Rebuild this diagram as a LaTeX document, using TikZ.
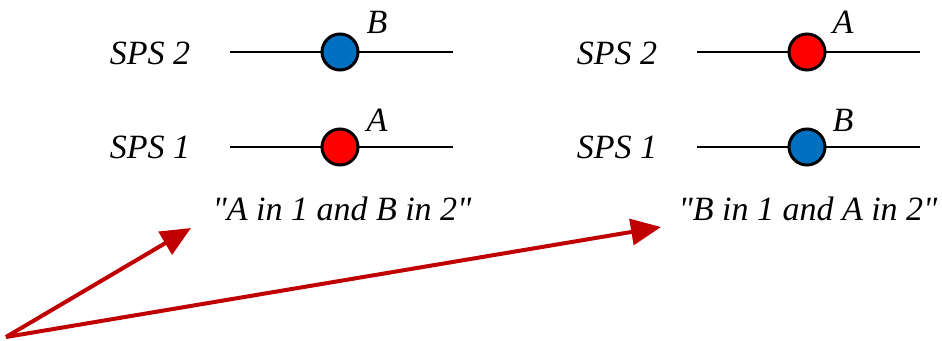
\documentclass[tikz,border=0pt]{standalone}
\usepackage{fontspec}
\setmainfont{Liberation Serif}
\newfontfamily\labelfont{Liberation Serif Italic}
\usepackage{tikz}
\usetikzlibrary{arrows.meta}

\definecolor{ballred}{HTML}{FF0000}
\definecolor{ballblue}{HTML}{0070C0}
\definecolor{arrowred}{HTML}{C00000}

\begin{document}
\begin{tikzpicture}[x=1pt, y=-1pt,
    lbl/.style={font=\fontsize{34}{38}\selectfont\labelfont, inner sep=0pt, anchor=base},
    wire/.style={line width=2.2pt},
    ball/.style={circle, draw, line width=3pt, minimum size=36pt, inner sep=0pt},
    pointer/.style={arrowred, line width=4pt, -{Triangle[length=30pt, width=26pt]}},
]
\useasboundingbox (0,0) rectangle (942,340);

% Left panel: A in 1, B in 2
\node[lbl] (sps2L) at (150, 64) {SPS 2};
\node[lbl] (sps1L) at (150, 158) {SPS 1};
\coordinate (w2La) at (230, 52); \coordinate (w2Lb) at (453, 52);
\coordinate (w1La) at (230, 147); \coordinate (w1Lb) at (453, 147);
\draw[wire] (w2La) -- (w2Lb);
\draw[wire] (w1La) -- (w1Lb);
\node[ball, fill=ballblue] (ballBL) at (340, 52) {};
\node[ball, fill=ballred] (ballAL) at (340, 147) {};
\node[lbl] (labBL) at (377, 33) {B};
\node[lbl] (labAL) at (377, 131) {A};
\node[lbl] (stateL) at (342, 220) {\symbol{34}A in 1 and B in 2\symbol{34}};

% Right panel: B in 1, A in 2
\node[lbl] (sps2R) at (617, 64) {SPS 2};
\node[lbl] (sps1R) at (617, 158) {SPS 1};
\coordinate (w2Ra) at (697, 52); \coordinate (w2Rb) at (920, 52);
\coordinate (w1Ra) at (697, 147); \coordinate (w1Rb) at (920, 147);
\draw[wire] (w2Ra) -- (w2Rb);
\draw[wire] (w1Ra) -- (w1Rb);
\node[ball, fill=ballred] (ballAR) at (807, 52) {};
\node[ball, fill=ballblue] (ballBR) at (807, 147) {};
\node[lbl] (labAR) at (843, 33) {A};
\node[lbl] (labBR) at (843, 131) {B};
\node[lbl] (stateR) at (808, 220) {\symbol{34}B in 1 and A in 2\symbol{34}};

% Arrows
\coordinate (src) at (6, 337);
\coordinate (tipL) at (191, 228);
\coordinate (tipR) at (661, 227);
\draw[pointer] (src) -- (tipL);
\draw[pointer] (src) -- (tipR);

\end{tikzpicture}
\end{document}
